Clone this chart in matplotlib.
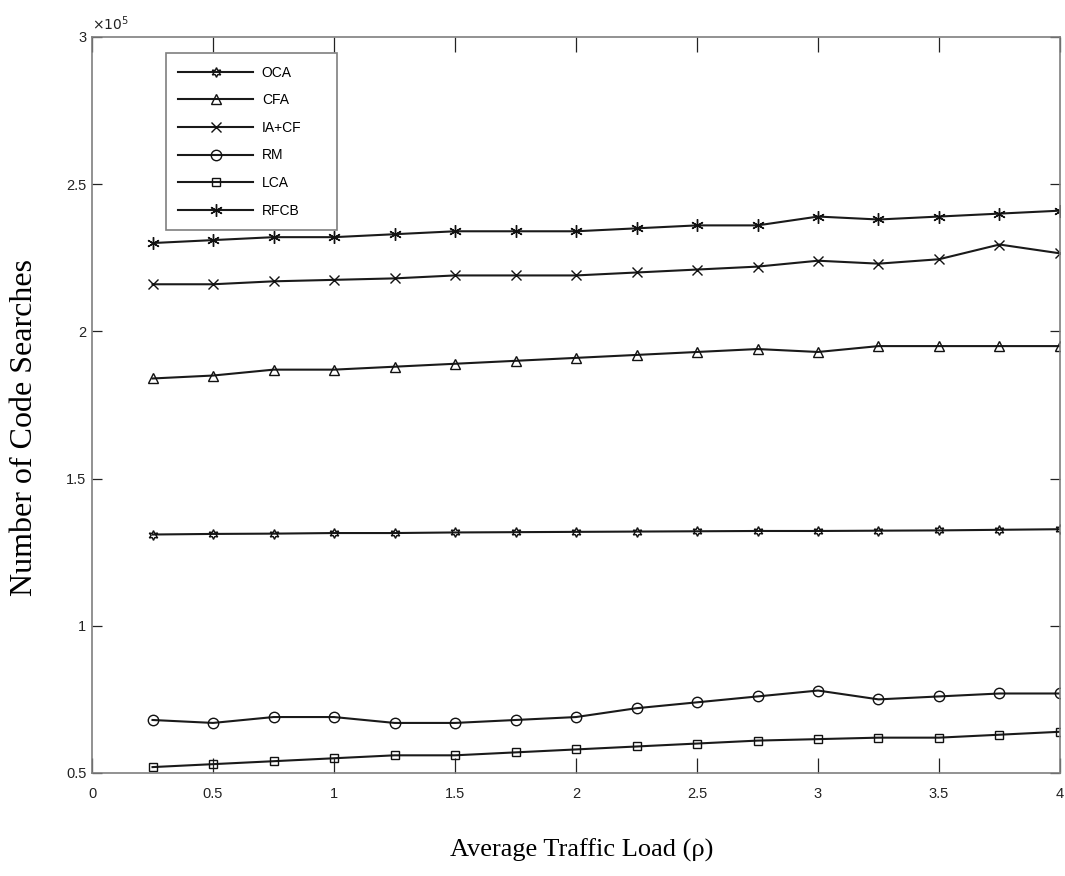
import matplotlib
matplotlib.use("Agg")
import matplotlib.pyplot as plt
from matplotlib.ticker import FuncFormatter, MultipleLocator
import numpy as np

# Parameters (values in units of 1e5 code searches)
load = [0.25, 0.5, 0.75, 1.0, 1.25, 1.5, 1.75, 2.0,
        2.25, 2.5, 2.75, 3.0, 3.25, 3.5, 3.75, 4.0]
oca = [1.310, 1.312, 1.313, 1.315, 1.315, 1.317, 1.318, 1.319,
       1.320, 1.321, 1.322, 1.322, 1.323, 1.324, 1.326, 1.328]
cfa = [1.84, 1.85, 1.87, 1.87, 1.88, 1.89, 1.90, 1.91,
       1.92, 1.93, 1.94, 1.93, 1.95, 1.95, 1.95, 1.95]
iacf = [2.16, 2.16, 2.17, 2.175, 2.18, 2.19, 2.19, 2.19,
        2.20, 2.21, 2.22, 2.24, 2.23, 2.245, 2.295, 2.265]
rm = [0.68, 0.67, 0.69, 0.69, 0.67, 0.67, 0.68, 0.69,
      0.72, 0.74, 0.76, 0.78, 0.75, 0.76, 0.77, 0.77]
lca = [0.52, 0.53, 0.54, 0.55, 0.56, 0.56, 0.57, 0.58,
       0.59, 0.60, 0.61, 0.615, 0.62, 0.62, 0.63, 0.64]
rfcb = [2.30, 2.31, 2.32, 2.32, 2.33, 2.34, 2.34, 2.34,
        2.35, 2.36, 2.36, 2.39, 2.38, 2.39, 2.40, 2.41]

series = [
    ("OCA", oca, (6, 1, 0), 7),
    ("CFA", cfa, "^", 7.5),
    ("IA+CF", iacf, "x", 7),
    ("RM", rm, "o", 7.5),
    ("LCA", lca, "s", 6),
    ("RFCB", rfcb, (6, 2, 0), 9),
]
scale = 1e5

fig = plt.figure(figsize=(10.65, 8.76), dpi=100)
ax = fig.add_axes([0.0864, 0.1176, 0.9089, 0.8402])

for name, vals, mk, ms in series:
    ax.plot(load, np.array(vals) * scale, color="#1a1a1a", lw=1.5,
            marker=mk, ms=ms, mfc="none", mec="#111111", mew=1.0,
            label=name)

ax.set_xlim(0, 4)
ax.set_ylim(0.5 * scale, 3 * scale)
ax.xaxis.set_major_locator(MultipleLocator(0.5))
ax.yaxis.set_major_locator(MultipleLocator(0.5 * scale))
ax.xaxis.set_major_formatter(FuncFormatter(lambda v, p: f"{v:g}"))
ax.yaxis.set_major_formatter(FuncFormatter(lambda v, p: f"{v / scale:g}"))

tick_font = "Liberation Sans"
for lab in ax.get_xticklabels() + ax.get_yticklabels():
    lab.set_fontfamily(tick_font)
ax.tick_params(axis="both", direction="in", top=True, right=True,
               labelsize=10.5, colors="#222222", width=0.9)
ax.tick_params(axis="x", length=11, pad=10)
ax.tick_params(axis="y", length=7, pad=4)
for sp in ax.spines.values():
    sp.set_color("#7f7f7f")
    sp.set_linewidth(1.2)

ax.text(0.0, 1.006, r"$\times10^5$", transform=ax.transAxes,
        ha="left", va="bottom", fontsize=10, family=tick_font, color="#222222")

# axis titles placed like the original figure
fig.text(582 / 1065, 1 - 850 / 876, "Average Traffic Load (ρ)",
         family="Liberation Serif", fontsize=19, ha="center", va="center")
fig.text(25 / 1065, 1 - 428 / 876, "Number of Code Searches",
         family="Liberation Serif", fontsize=23, rotation=90,
         ha="center", va="center")

leg = ax.legend(loc="upper left", bbox_to_anchor=(0.0764, 0.0, 0.1767, 0.978),
                mode="expand", borderaxespad=0, fancybox=False, framealpha=1,
                edgecolor="#7f7f7f", handlelength=5.4, labelspacing=0.98,
                borderpad=0.9, handletextpad=0.6,
                prop={"family": tick_font, "size": 10})
leg.get_frame().set_linewidth(1.2)

fig.savefig("out.png", dpi=100, facecolor="white")
